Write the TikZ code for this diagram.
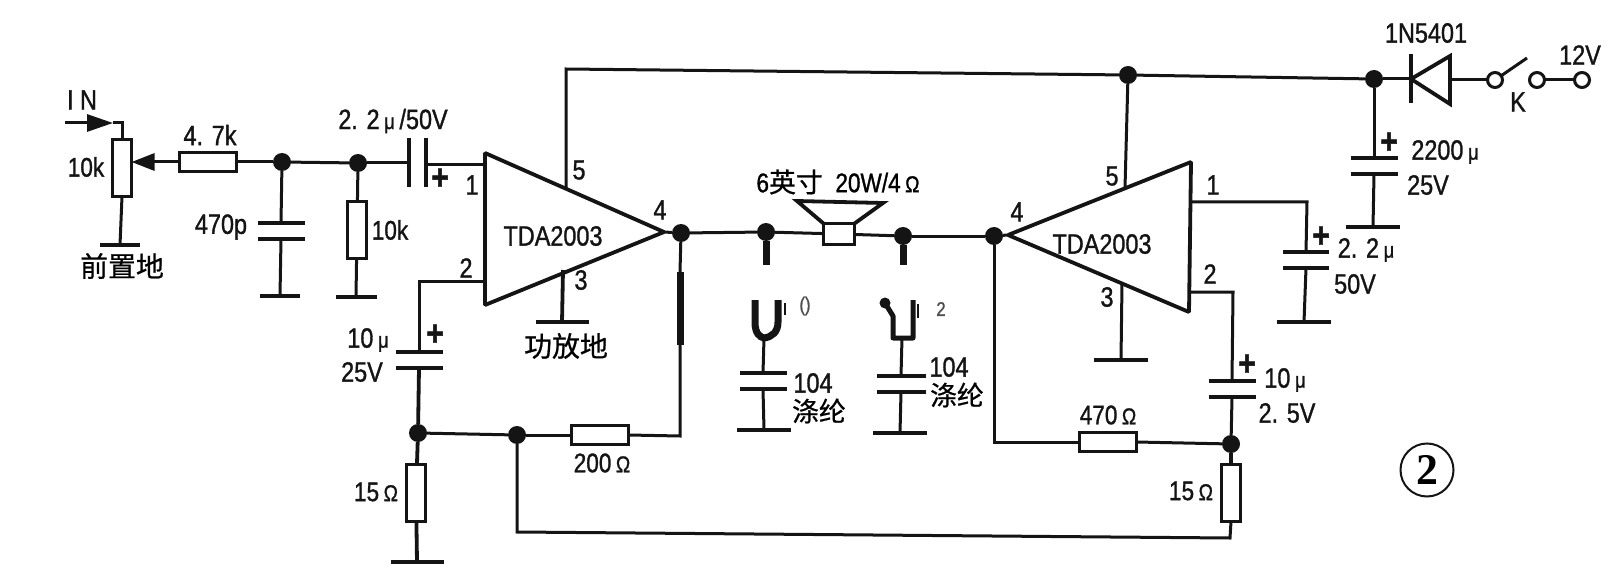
\documentclass[tikz,border=0pt]{standalone}
\usepackage{fontspec}
\usetikzlibrary{arrows.meta}
\setmainfont[FakeStretch=0.84,FakeBold=1.1]{Liberation Sans}
\newfontfamily\cjkf[FakeBold=0.7]{Noto Sans CJK SC}
\newfontfamily\twof{Liberation Serif}
\newcommand\mk{{\fontsize{22}{22}\selectfont μ}}
\newcommand\om{{\fontsize{23}{23}\selectfont Ω}}
\newcommand\cn[2]{{\cjkf\fontsize{#1}{#1}\selectfont #2}}
\definecolor{ink}{HTML}{141414}
\tikzset{
  wire/.style={draw=ink,line width=3bp,line join=miter},
  fat/.style={draw=ink,line width=3.8bp},
  blob/.style={draw=ink,line width=7bp},
  res h/.style={draw=ink,fill=white,line width=3.8bp,minimum width=57bp,minimum height=19bp,inner sep=0,outer sep=0},
  res v/.style={draw=ink,fill=white,line width=3.8bp,minimum width=19bp,minimum height=57bp,inner sep=0,outer sep=0},
  dot/.style={circle,fill=ink,minimum size=18bp,inner sep=0,outer sep=0},
  ring/.style={circle,draw=ink,fill=white,line width=3bp,minimum size=15bp,inner sep=0,outer sep=0},
  plate/.style={fill=ink,minimum width=#1bp,minimum height=4.4bp,inner sep=0,outer sep=0},
  vplate/.style={fill=ink,minimum width=4.4bp,minimum height=#1bp,inner sep=0,outer sep=0},
  lbl/.style={text=ink,inner sep=0,font=\fontsize{28}{28}\selectfont},
  slbl/.style={text=ink,inner sep=0,font=\fontsize{27}{27}\selectfont},
  faint/.style={text=ink!75,inner sep=0,font=\fontsize{20}{20}\selectfont},
  plus/.style={text=ink,inner sep=0,font=\fontsize{36}{36}\selectfont\bfseries},
}
\begin{document}
\begin{tikzpicture}[x=1bp,y=-1bp]
\useasboundingbox (0,0) rectangle (1616,584);
\fill[white] (0,0) rectangle (1616,584);

% amplifier bodies
\coordinate (aT) at (485,153); \coordinate (aB) at (485,305); \coordinate (aO) at (664,232);
\coordinate (bT) at (1191,162); \coordinate (bB) at (1189,312); \coordinate (bO) at (1008,235);
\draw[fat,line join=bevel] (aT) -- (aO) -- (aB) -- cycle;
\draw[fat,line join=bevel] (bT) -- (bO) -- (bB) -- cycle;
\node[lbl] (ampA) at (553,236) {TDA2003};
\node[lbl] (ampB) at (1102,244) {TDA2003};

% junctions
\node[dot] (j1) at (282,162) {};
\node[dot] (j2) at (358,163) {};
\node[dot] (j4) at (681,233) {};
\node[dot] (j5) at (766,232) {};
\node[dot] (j6) at (903,236) {};
\node[dot] (j7) at (994,236) {};
\node[dot] (j8) at (418,433) {};
\node[dot] (j9) at (517,435) {};
\node[dot] (j10) at (1231,444) {};
\node[dot] (j11) at (1128,75) {};
\node[dot] (j12) at (1374,79) {};

% resistors
\node[res v] (pot) at (122,168) {};
\node[res h] (r47) at (208,162) {};
\node[res v] (r10k) at (357,230) {};
\node[res h] (r200) at (600,435) {};
\node[res v] (r15a) at (416,493) {};
\node[res h] (r470) at (1108,442) {};
\node[res v] (r15b) at (1231,493) {};

% input side
\coordinate (inS) at (65,123); \coordinate (inT) at (113,123); \coordinate (inC) at (122,123);
\draw[wire,-{Triangle[length=26bp,width=17bp,sep=0pt]}] (inS) -- (inT);
\draw[wire] (inT) -- (inC) -- (pot.north);
\draw[wire,-{Triangle[length=23bp,width=17bp]}] (r47.west) -- (pot.east |- r47.west);
\node[plate=40] (gP) at (120,245) {};
\draw[wire] (pot.south) -- (gP);
\draw[wire] (r47) -- (j1);
\draw[wire] (j1) -- (j2);

% 470p
\node[plate=47] (c470a) at (281,223) {};
\node[plate=47] (c470b) at (281,239) {};
\node[plate=40] (g470) at (280,296) {};
\draw[wire] (j1) -- (c470a);
\draw[wire] (c470b) -- (g470);
% 10k to ground
\node[plate=41] (g10k) at (356,297) {};
\draw[wire] (j2) -- (r10k);
\draw[wire] (r10k) -- (g10k);
% input cap
\node[vplate=49] (ci1) at (409,163) {};
\node[vplate=49] (ci2) at (426,163) {};
\coordinate (pinA1) at (485,165);
\draw[wire] (j2) -- (ci1);
\draw[wire] (ci2.east |- pinA1) -- (pinA1);

% amp A pin 2 and feedback
\coordinate (pinA2) at (485,281);
\coordinate (elbA2) at (419,281);
\node[plate=47] (c10a) at (419,352) {};
\node[plate=47] (c10b) at (419,368) {};
\draw[wire] (pinA2) -- (elbA2) -- (c10a);
\draw[fat] (c10b) -- (j8);
\draw[wire] (j8) -- (j9);
\draw[wire] (j9) -- (r200);
\draw[fat] (j8) -- (r15a);
\node[plate=53] (g15a) at (417,562) {};
\draw[fat] (r15a) -- (g15a);
% long return wire
\coordinate (retL) at (517,532); \coordinate (retR) at (1230,538);
\draw[wire] (j9) -- (retL) -- (retR) -- (r15b.south);
\draw[wire] (r200.east) -- (680,436) coordinate (fbC) -- (680,345) coordinate (fbU);
\coordinate (fbT) at (680,272);
\draw[blob] (fbU) -- (fbT);
\draw[wire] (fbT) -- (j4);

% amp A pins 3,5
\coordinate (pinA3) at (563,270);
\node[plate=53] (gA3) at (562,322) {};
\draw[fat] (pinA3) -- (gA3);
\coordinate (pinA5) at (566,188);
\coordinate (topL) at (566,69);
\draw[wire] (pinA5) -- (topL) -- (j11);
\draw[wire] (j11) -- (j12);
\draw[wire] (j11) -- (1125,188) coordinate (pinB5);

% output line and speaker
\node[draw=ink,fill=white,line width=3bp,minimum width=31bp,minimum height=21bp,inner sep=0,outer sep=0] (spk) at (839,234) {};
\draw[fat,line join=miter] (spk.north west) -- (797,201) -- (883,203) -- (spk.north east);
\draw[wire] (aO) -- (j4);
\draw[wire] (j4) -- (j5);
\draw[wire] (j5) -- (spk);
\draw[wire] (spk) -- (j6);
\draw[wire] (j6) -- (j7);
\draw[wire] (j7) -- (bO);
\draw[wire] (j7.south) |- (r470.west);
\draw[wire] (r470.east) -- (j10);
\draw[fat] (j10) -- (r15b);

% interrupted filter branches
\coordinate (brA) at (766,265); \coordinate (brB) at (903,265);
\draw[blob] (j5) -- (brA);
\draw[blob] (j6) -- (brB);
\coordinate (uAl) at (755,300); \coordinate (uAr) at (778,300); \coordinate (uAm) at (764,338);
\draw[blob] (uAl) -- (755,322) .. controls (755,334) and (760,337) .. (uAm) .. controls (772,337) and (778,332) .. (778,322) -- (uAr);
\coordinate (uBa) at (885,303); \coordinate (uBb) at (893,316); \coordinate (uBc) at (893,338); \coordinate (uBd) at (913,338); \coordinate (uBe) at (913,300); \coordinate (uBm) at (902,338);
\draw[draw=ink,line width=5bp,line join=round] (uBa) -- (uBb) -- (uBc) -- (uBd) -- (uBe);
\node[circle,fill=ink,minimum size=11bp,inner sep=0] (uBk) at (uBa) {};
\draw[draw=ink,line width=2.5bp] (785,303) -- (785,315);
\draw[draw=ink,line width=2.5bp] (918,304) -- (918,318);
\node[faint] (fa) at (805,306) {()};
\node[faint] (fb) at (941,309) {2};

% 104 caps
\node[plate=47] (cA1) at (763,373) {};
\node[plate=47] (cA2) at (763,389) {};
\node[plate=54] (gcA) at (764,430) {};
\draw[wire] (uAm) -- (cA1);
\draw[wire] (cA2) -- (gcA);
\node[plate=49] (cB1) at (901,376) {};
\node[plate=49] (cB2) at (901,392) {};
\node[plate=54] (gcB) at (900,433) {};
\draw[wire] (uBm) -- (cB1);
\draw[wire] (cB2) -- (gcB);

% amp B pins
\coordinate (pinB3) at (1122,283);
\node[plate=54] (gB3) at (1121,360) {};
\draw[wire] (pinB3) -- (gB3);
\coordinate (pinB1) at (1191,202); \coordinate (elbB1) at (1307,202);
\node[plate=46] (cC1) at (1306,252) {};
\node[plate=46] (cC2) at (1306,268) {};
\node[plate=54] (gC) at (1304,322) {};
\draw[wire] (pinB1) -- (elbB1) -- (cC1);
\draw[wire] (cC2) -- (gC);
\coordinate (pinB2) at (1190,292); \coordinate (elbB2) at (1233,292);
\node[plate=47] (cD1) at (1232,381) {};
\node[plate=47] (cD2) at (1232,397) {};
\draw[wire] (pinB2) -- (elbB2) -- (cD1);
\draw[wire] (cD2) -- (j10);

% supply
\node[plate=47] (cE1) at (1374,158) {};
\node[plate=47] (cE2) at (1374,174) {};
\node[plate=54] (gE) at (1373,227) {};
\draw[wire] (j12) -- (cE1);
\draw[wire] (cE2) -- (gE);
\coordinate (dK) at (1411,79); \coordinate (dA) at (1450,80);
\node[vplate=49] (dBar) at (1411,79) {};
\draw[fat,line join=miter] (dK) -- (1450,56) -- (1450,104) -- cycle;
\node[ring] (s1) at (1495,80) {};
\node[ring] (s2) at (1537,80) {};
\node[ring] (s3) at (1582,80) {};
\coordinate (arm) at (1527,58);
\draw[wire] (j12) -- (dK);
\draw[wire] (dA) -- (s1);
\draw[wire] (s1) -- (arm);
\draw[wire] (s2) -- (s3);

% labels
\node[lbl] (tIN) at (82,100) {I N};
\node[slbl] (t10k) at (86,167) {10k};
\node[lbl] (t47k) at (210,135) {4. 7k};
\node[lbl] (t470p) at (221,227) {470p};
\node[slbl] (t10kb) at (390,230) {10k};
\node[lbl] (t22) at (393,121) {2. 2\,\mk\,/50V};
\node[plus] (p1) at (440,179) {+};
\node[lbl] (pa1) at (472,185) {1};
\node[lbl] (pa2) at (466,268) {2};
\node[lbl] (pa3) at (581,280) {3};
\node[lbl] (pa4) at (660,210) {4};
\node[lbl] (pa5) at (579,170) {5};
\node (tq) at (122,266) {\cn{28}{前置地}};
\node (tg) at (566,346) {\cn{28}{功放地}};
\node[plus] (p2) at (435,335) {+};
\node[lbl] (t10u) at (368,340) {10\,\mk};
\node[lbl] (t25a) at (362,372) {25V};
\node[slbl] (t200) at (602,463) {200\,\om};
\node[slbl] (t15a) at (376,492) {15\,\om};
\node (tspk) at (838,182) {\fontsize{27}{27}\selectfont 6\cn{27}{英寸} \ 20W/4\,\om};
\node[lbl] (t104a) at (813,383) {104};
\node (tdla) at (819,411) {\cn{27}{涤纶}};
\node[lbl] (t104b) at (949,367) {104};
\node (tdlb) at (957,395) {\cn{27}{涤纶}};
\node[lbl] (pb1) at (1213,185) {1};
\node[lbl] (pb2) at (1210,274) {2};
\node[lbl] (pb3) at (1107,297) {3};
\node[lbl] (pb4) at (1017,212) {4};
\node[lbl] (pb5) at (1112,176) {5};
\node[plus] (p3) at (1247,365) {+};
\node[lbl] (t10ub) at (1285,380) {10\,\mk};
\node[lbl] (t25b) at (1287,413) {2. 5V};
\node[slbl] (t470) at (1108,415) {470\,\om};
\node[slbl] (t15b) at (1191,491) {15\,\om};
\node[plus] (p4) at (1321,237) {+};
\node[lbl] (t22b) at (1366,250) {2. 2\,\mk};
\node[lbl] (t50) at (1355,284) {50V};
\node[plus] (p5) at (1389,143) {+};
\node[lbl] (t2200) at (1445,152) {2200\,\mk};
\node[lbl] (t25c) at (1428,185) {25V};
\node[lbl] (t1n) at (1426,33) {1N5401};
\node[lbl] (t12) at (1580,55) {12V};
\node[lbl] (tK) at (1518,102) {K};
\node[circle,draw=ink,line width=2bp,minimum size=53bp,inner sep=0] (tn) at (1427,470) {\twof\bfseries\fontsize{44}{44}\selectfont 2};
\end{tikzpicture}
\end{document}
